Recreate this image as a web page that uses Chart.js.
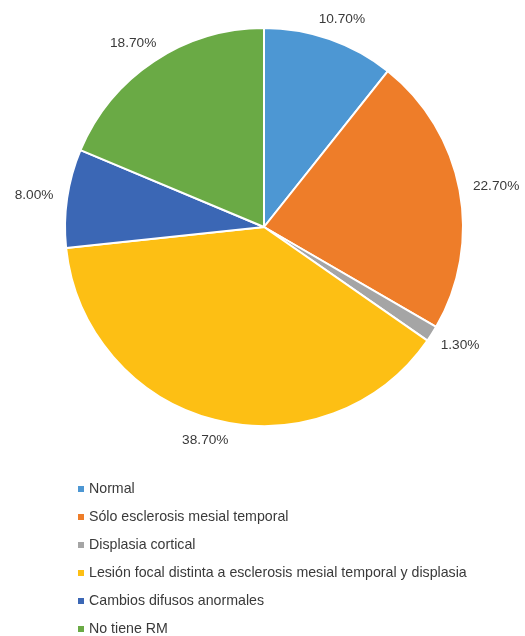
<!DOCTYPE html>
<html>

<head>
  <title>Resultados de RM</title>
  <script src="https://cdn.jsdelivr.net/npm/chart.js"></script>
  <style>
    html, body { margin: 0; padding: 0; background: #fff; }
    #wrap { width: 525px; height: 636px; }
  </style>
</head>

<body>
  <div id="wrap"><canvas id="myChart"></canvas></div>
  <script>

    let categories = [
      "Normal",
      "Sólo esclerosis mesial temporal",
      "Displasia cortical",
      "Lesión focal distinta a esclerosis mesial temporal y displasia",
      "Cambios difusos anormales",
      "No tiene RM"
    ];
    let percentages = [10.7, 22.7, 1.3, 38.7, 8.0, 18.7];
    let sliceColors = ['#4D97D3', '#EE7D29', '#A5A5A5', '#FDBF14', '#3B67B5', '#6AAA45'];

    let textColor = '#3a3a3a';
    let fontFamily = '"Liberation Sans", Arial, sans-serif';

    // percentage labels outside each slice + left aligned legend under the pie
    let pieExtras = {
      id: 'pieExtras',
      afterDraw(chart) {
        let ctx = chart.ctx;
        let meta = chart.getDatasetMeta(0);
        ctx.save();
        ctx.font = '13.7px ' + fontFamily;
        ctx.fillStyle = textColor;
        ctx.textAlign = 'center';
        ctx.textBaseline = 'middle';
        meta.data.forEach((arc, i) => {
          let mid = (arc.startAngle + arc.endAngle) / 2;
          let r = arc.outerRadius + 14;
          let txt = percentages[i].toFixed(2) + '%';
          let w = ctx.measureText(txt).width;
          let h = 15;
          let x = arc.x + Math.cos(mid) * r + Math.cos(mid) * w / 2;
          let y = arc.y + Math.sin(mid) * r + Math.sin(mid) * h / 2;
          ctx.fillText(txt, x, y);
        });

        // legend
        let area = chart.chartArea;
        let startY = area.bottom + 62;
        ctx.textAlign = 'left';
        ctx.font = '14.2px ' + fontFamily;
        categories.forEach((label, i) => {
          let y = startY + i * 28;
          ctx.fillStyle = sliceColors[i];
          ctx.fillRect(78, y - 3, 6, 6);
          ctx.fillStyle = textColor;
          ctx.fillText(label, 89, y);
        });
        ctx.restore();
      }
    };

    let ctx = document.getElementById('myChart').getContext('2d');
    let myChart = new Chart(ctx, {
      type: 'pie',
      data: {
        labels: categories,
        datasets: [{
          data: percentages,
          backgroundColor: sliceColors,
          borderColor: '#ffffff',
          borderWidth: 2
        }]
      },
      options: {
        responsive: true,
        maintainAspectRatio: false,
        animation: false,
        layout: {
          padding: { top: 27, bottom: 209, left: 64, right: 61 }
        },
        plugins: {
          legend: { display: false },
          tooltip: { enabled: false }
        }
      },
      plugins: [pieExtras]
    });

  </script>
</body>

</html>
